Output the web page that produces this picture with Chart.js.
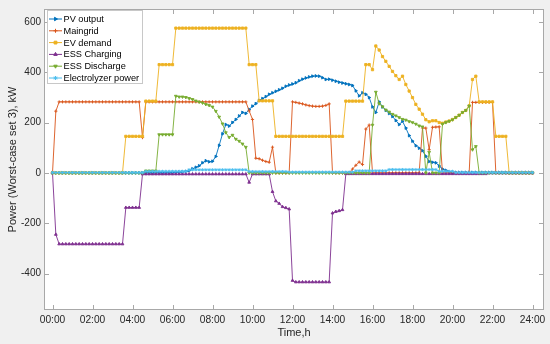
<!DOCTYPE html>
<html>
<head>
<meta charset="utf-8">
<script src="https://cdn.jsdelivr.net/npm/chart.js@4.4.0/dist/chart.umd.min.js"></script>
<style>
html, body { margin: 0; padding: 0; background: #f0f0f0; }
</style>
</head>
<body>
<canvas id="grafica" width="550" height="344"></canvas>
<script>
//eje de tiempo: muestras cada 10 minutos de 00:00 a 24:00
const horas = Array.from({length: 145}, (_, i) => i / 6);
const horasTick = [0, 2, 4, 6, 8, 10, 12, 14, 16, 18, 20, 22, 24];
const etiquetasHora = ["00:00", "02:00", "04:00", "06:00", "08:00", "10:00", "12:00", "14:00", "16:00", "18:00", "20:00", "22:00", "24:00"];
const ticksPotencia = [-400, -200, 0, 200, 400, 600];
const nombres = ["PV output", "Maingrid", "EV demand", "ESS Charging", "ESS Discharge", "Electrolyzer power"];

//valores, kW
const pvOutput = [
    0,0,0,0,0,0,0,0,0,0,
    0,0,0,0,0,0,0,0,0,0,
    0,0,0,0,0,0,0,0,0,0,
    0,0,0,0,0,0,1,2,3,4,
    6,9,16,22,28,40,48,44,46,65,
    109,155,192,186,200,212,226,240,236,252,
    265,275,288,295,303,312,318,324,330,336,
    344,349,353,358,366,372,377,381,384,385,
    384,378,371,372,368,364,360,357,354,351,
    347,326,306,318,312,299,262,240,282,262,
    248,236,224,208,192,205,178,148,126,108,
    98,88,66,45,42,40,27,15,10,4,
    2,2,2,2,2,2,2,2,2,2,
    2,2,2,2,2,2,2,2,2,2,
    2,2,2,2,2
];
const maingrid = [
    0,245,282,282,282,282,282,282,282,282,
    282,282,282,282,282,282,282,282,282,282,
    282,282,282,282,282,282,282,140,282,282,
    282,282,282,282,282,282,282,282,282,282,
    282,282,282,282,282,282,282,282,282,282,
    282,282,282,282,282,282,282,282,282,246,
    212,58,56,50,45,42,102,0,0,0,
    0,0,282,280,277,274,270,267,265,264,
    264,265,268,274,0,0,0,0,0,0,
    15,30,43,33,174,190,0,0,0,0,
    0,0,0,0,0,0,0,0,0,0,
    0,178,178,92,181,182,183,0,0,0,
    0,0,0,0,0,0,280,280,280,280,
    280,280,280,0,0,0,0,0,0,0,
    0,0,0,0,0
];
const evDemand = [
    0,0,0,0,0,0,0,0,0,0,
    0,0,0,0,0,0,0,0,0,0,
    0,0,145,145,145,145,145,145,285,285,
    285,285,430,430,430,430,430,575,575,575,
    575,575,575,575,575,575,575,575,575,575,
    575,575,575,575,575,575,575,575,575,430,
    430,430,286,286,286,286,286,145,145,145,
    145,145,145,145,145,145,145,145,145,145,
    145,145,145,145,145,145,145,145,285,285,
    285,285,285,285,430,430,410,504,488,462,
    443,423,403,386,371,384,351,325,299,272,
    253,233,211,203,207,207,200,197,202,206,
    212,220,229,240,248,266,371,384,282,282,
    282,282,282,145,145,145,145,0,0,0,
    0,0,0,0,0
];
const essCharging = [
    0,-245,-283,-283,-283,-283,-283,-283,-283,-283,
    -283,-283,-283,-283,-283,-283,-283,-283,-283,-283,
    -283,-283,-138,-138,-138,-138,-138,-5,-5,-5,
    -5,-5,-5,-5,-5,-5,-5,-5,-5,-5,
    -5,-5,-5,-5,-5,-5,-5,-5,-5,-5,
    -5,-5,-5,-5,-5,-5,-5,-5,-5,-38,
    -5,-5,-5,-5,-5,-5,-75,-112,-122,-135,
    -139,-144,-428,-434,-434,-434,-434,-434,-434,-434,
    -434,-434,-434,-434,-160,-154,-151,-147,-4,-4,
    -4,-4,-4,-4,-4,-4,-4,-4,-4,-4,
    -4,-4,-4,-4,-4,-4,-4,-4,-4,-4,
    -4,-4,-4,-4,-4,-4,-4,-4,-4,-4,
    -4,-4,-4,-4,-4,-4,-4,-4,-4,-4,
    -4,-1,-1,-1,-1,-1,-1,-1,-1,-1,
    -1,-1,-1,-1,-1
];
const essDischarge = [
    0,0,0,0,0,0,0,0,0,0,
    0,0,0,0,0,0,0,0,0,0,
    0,0,0,0,0,0,0,0,8,8,
    8,8,152,152,152,152,152,305,302,302,
    300,296,292,286,282,278,272,268,262,245,
    222,195,160,141,150,134,126,115,102,0,
    0,0,0,0,0,0,0,0,0,0,
    0,0,0,0,0,0,0,0,0,0,
    0,0,0,0,0,0,0,0,0,0,
    0,0,0,0,0,0,190,321,275,263,
    250,242,233,227,220,213,210,204,200,194,
    187,183,0,82,0,0,0,194,200,205,
    211,220,229,240,248,266,92,105,0,0,
    0,0,0,0,0,0,0,0,0,0,
    0,0,0,0,0
];
const electrolyzer = [
    1,1,1,1,1,1,1,1,1,1,
    1,1,1,1,1,1,1,1,1,1,
    1,1,1,1,1,1,1,1,6,6,
    6,6,6,6,6,6,6,6,6,6,
    6,12,12,12,12,12,12,12,12,12,
    12,12,12,12,12,12,12,12,12,5,
    5,5,5,5,5,5,5,5,5,5,
    5,3,3,3,3,3,3,3,3,3,
    3,3,3,3,3,3,3,3,3,3,
    3,8,8,8,8,8,8,8,8,8,
    8,13,13,13,13,13,13,13,13,13,
    13,13,13,13,13,13,6,6,6,6,
    6,1,1,1,1,1,1,1,1,1,
    1,1,1,1,1,1,1,1,1,1,
    1,1,1,1,1
];

const fuente = '"Liberation Sans", Arial, sans-serif';
const grisTexto = '#262626';
const grisMarco = '#a8a8a8';

//estilo de cada serie (colores por defecto de MATLAB)
const estilos = [
    {color: '#0072BD', punto: 'triangle', giro: 90},
    {color: '#D95319', punto: 'cross', giro: 0},
    {color: '#EDB120', punto: 'rect', giro: 0},
    {color: '#7E2F8E', punto: 'triangle', giro: 0},
    {color: '#77AC30', punto: 'triangle', giro: 180},
    {color: '#4DBEEE', punto: 'star', giro: 0},
];
const valores = [pvOutput, maingrid, evDemand, essCharging, essDischarge, electrolyzer];

const conjuntos = valores.map((serie, k) => ({
    label: nombres[k],
    data: serie.map((v, i) => ({x: horas[i], y: v})),
    borderColor: estilos[k].color,
    backgroundColor: estilos[k].color,
    borderWidth: 0.9,
    pointStyle: estilos[k].punto,
    rotation: estilos[k].giro,
    pointRadius: 1.6,
    pointBorderWidth: 0.9,
    tension: 0,
    order: valores.length - k, //la ultima serie queda arriba, como en MATLAB
}));

//fondo gris de la figura y area blanca de los ejes
const fondo = {
    id: 'fondo',
    beforeDraw(chart) {
        const {ctx, chartArea: a} = chart;
        ctx.save();
        ctx.fillStyle = '#f0f0f0';
        ctx.fillRect(0, 0, chart.width, chart.height);
        ctx.fillStyle = '#ffffff';
        ctx.fillRect(a.left, a.top, a.right - a.left, a.bottom - a.top);
        ctx.restore();
    }
};

//caja de los ejes con marcas hacia adentro
const marco = {
    id: 'marco',
    afterDatasetsDraw(chart) {
        const {ctx, chartArea: a, scales} = chart;
        ctx.save();
        ctx.strokeStyle = grisMarco;
        ctx.lineWidth = 1;
        ctx.strokeRect(a.left + 0.5, a.top + 0.5, a.right - a.left - 1, a.bottom - a.top - 1);
        ctx.beginPath();
        scales.x.ticks.forEach(t => {
            const px = Math.round(scales.x.getPixelForValue(t.value)) + 0.5;
            ctx.moveTo(px, a.bottom); ctx.lineTo(px, a.bottom - 5);
            ctx.moveTo(px, a.top); ctx.lineTo(px, a.top + 5);
        });
        scales.y.ticks.forEach(t => {
            const py = Math.round(scales.y.getPixelForValue(t.value)) + 0.5;
            ctx.moveTo(a.left, py); ctx.lineTo(a.left + 5, py);
            ctx.moveTo(a.right, py); ctx.lineTo(a.right - 5, py);
        });
        ctx.stroke();
        ctx.restore();
    }
};

//leyenda dentro del area, arriba a la izquierda
const leyenda = {
    id: 'leyenda',
    afterDraw(chart) {
        const {ctx, chartArea: a} = chart;
        const x0 = a.left + 3, y0 = a.top + 1;
        const ancho = 95, alto = 73, paso = 11.8;
        ctx.save();
        ctx.fillStyle = '#ffffff';
        ctx.fillRect(x0, y0, ancho, alto);
        ctx.strokeStyle = '#c8c8c8';
        ctx.lineWidth = 1;
        ctx.strokeRect(x0 + 0.5, y0 + 0.5, ancho, alto);
        ctx.font = '9.2px ' + fuente;
        ctx.textBaseline = 'middle';
        chart.data.datasets.forEach((ds, k) => {
            const y = y0 + 9 + k * paso;
            ctx.strokeStyle = ds.borderColor;
            ctx.fillStyle = ds.backgroundColor;
            ctx.lineWidth = 1;
            ctx.beginPath();
            ctx.moveTo(x0 + 2, y);
            ctx.lineTo(x0 + 15, y);
            ctx.stroke();
            if (Chart.helpers && Chart.helpers.drawPoint) {
                Chart.helpers.drawPoint(ctx, {pointStyle: ds.pointStyle, rotation: ds.rotation, radius: 2, borderWidth: 1}, x0 + 8.5, y);
            }
            ctx.fillStyle = '#000000';
            ctx.fillText(ds.label, x0 + 16.5, y + 0.5);
        });
        ctx.restore();
    }
};

const $grafica = document.querySelector("#grafica");
new Chart($grafica, {
    type: 'line',
    data: {datasets: conjuntos},
    options: {
        responsive: false,
        animation: false,
        devicePixelRatio: 1,
        layout: {padding: {left: 0, right: 6, top: 5, bottom: 0}},
        plugins: {legend: {display: false}, tooltip: {enabled: false}},
        scales: {
            x: {
                type: 'linear',
                min: -0.425,
                max: 24.575,
                afterBuildTicks: s => { s.ticks = horasTick.map(v => ({value: v})); },
                afterFit: s => { s.height = 34; },
                grid: {display: false, drawTicks: false},
                border: {display: false},
                ticks: {
                    autoSkip: false,
                    maxRotation: 0,
                    padding: 4,
                    color: grisTexto,
                    font: {family: fuente, size: 10.2},
                    callback: (v, i) => etiquetasHora[i],
                },
                title: {
                    display: true,
                    text: 'Time,h',
                    color: grisTexto,
                    font: {family: fuente, size: 11},
                    padding: {top: 0, bottom: 4},
                },
            },
            y: {
                min: -545,
                max: 651,
                afterBuildTicks: s => { s.ticks = ticksPotencia.map(v => ({value: v})); },
                afterFit: s => { s.width = 44; },
                grid: {display: false, drawTicks: false},
                border: {display: false},
                ticks: {
                    padding: 3,
                    color: grisTexto,
                    font: {family: fuente, size: 10},
                    callback: v => String(v),
                },
                title: {
                    display: true,
                    text: 'Power (Worst-case set 3), kW',
                    color: grisTexto,
                    font: {family: fuente, size: 11},
                    padding: {top: 6, bottom: 0},
                },
            },
        },
    },
    plugins: [fondo, marco, leyenda],
});
</script>
</body>
</html>
